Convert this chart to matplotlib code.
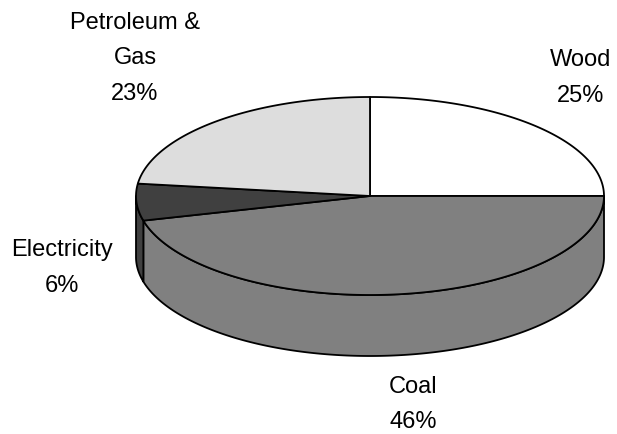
import numpy as np
import matplotlib.pyplot as plt
from matplotlib.patches import Polygon

plt.rcParams['font.family'] = ['Liberation Sans', 'DejaVu Sans']

labels = ['Wood', 'Coal', 'Electricity', 'Petroleum &\nGas']
shares = [25, 46, 6, 23]
colors = ['#ffffff', '#808080', '#404040', '#dddddd']

# label anchor (x, y of first line) in pixel space
label_pos = [(581, 60), (413, 387), (62, 250), (135, 23)]

# ellipse geometry in pixels
cx, cy = 370, 196
rx, ry = 234, 99
depth = 61

fig = plt.figure(figsize=(6.17, 4.34), dpi=100)
ax = fig.add_axes([0, 0, 1, 1])
ax.set_xlim(0, 617)
ax.set_ylim(434, 0)
ax.axis('off')


def rim(a0, a1, dy=0, n=200):
    t = np.radians(np.linspace(a0, a1, n))
    return np.column_stack([cx + rx * np.cos(t), cy - ry * np.sin(t) + dy])


# slices run clockwise from 12 o'clock
bounds = []
start = 90.0
for s in shares:
    end = start - s / 100 * 360
    bounds.append((end, start))
    start = end

# front wall: angles -180..0 face the viewer
for (a0, a1), c in zip(bounds, colors):
    lo, hi = max(a0, -180), min(a1, 0)
    if hi <= lo:
        continue
    wall = np.vstack([rim(lo, hi), rim(hi, lo, depth)])
    ax.add_patch(Polygon(wall, closed=True, facecolor=c,
                         edgecolor='black', lw=1.3, joinstyle='round'))

# top faces
for (a0, a1), c in zip(bounds, colors):
    pts = np.vstack([[cx, cy], rim(a0, a1)])
    ax.add_patch(Polygon(pts, closed=True, facecolor=c, edgecolor='black',
                         lw=1.3, joinstyle='round'))

for lab, s, (x, y) in zip(labels, shares, label_pos):
    lines = lab.split('\n') + [f'{s}%']
    for i, ln in enumerate(lines):
        ax.text(x, y + i * 35.5, ln, ha='center', va='center', fontsize=17)

fig.savefig('out.png', dpi=100)
